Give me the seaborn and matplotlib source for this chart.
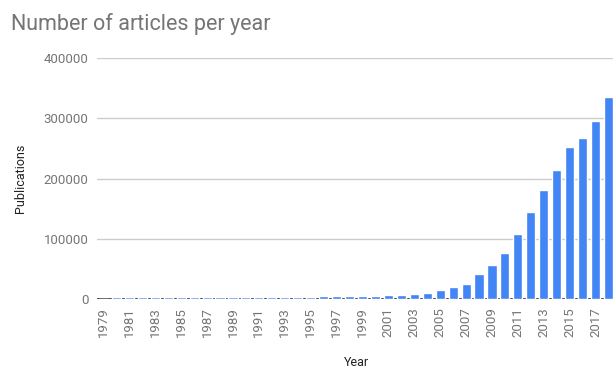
import matplotlib
matplotlib.use("Agg")
import matplotlib.pyplot as plt
import seaborn as sns
import pandas as pd

years = list(range(1979, 2019))
publications = [
    0, 3000, 3000, 3000, 3000, 3000, 3000, 3000, 3000, 3000,
    3000, 3000, 3000, 3000, 3000, 3000, 3000, 4500, 4500, 4500,
    4500, 4500, 6000, 6000, 7500, 9500, 14500, 19500, 24500, 41000,
    57000, 77000, 108000, 144000, 181000, 214000, 252000, 268000, 295000, 336000,
]
y_ticks = [0, 100000, 200000, 300000, 400000]

df = pd.DataFrame({"Year": [str(y) for y in years], "Publications": publications})

sns.set_theme(style="white")
plt.rcParams["font.family"] = ["Roboto", "DejaVu Sans"]

text_gray = "#757575"
fig = plt.figure(figsize=(6.13, 3.68), dpi=100)
ax = fig.add_axes([97 / 613, 69 / 368, 518 / 613, 241 / 368])

ax.axhline(0, color="#333333", linewidth=1.2, zorder=2)
sns.barplot(data=df, x="Year", y="Publications", color="#4285F4",
            saturation=1, width=0.7, ax=ax, zorder=3)

ax.set_xlim(-0.5, len(years) - 0.5)
ax.set_ylim(0, 400000)
ax.set_yticks(y_ticks)
ax.set_yticklabels([str(v) for v in y_ticks], color=text_gray, fontsize=9.5)
ax.yaxis.grid(True, color="#cccccc", linewidth=1, zorder=0)

ax.set_xticks(range(0, len(years), 2))
ax.set_xticklabels([str(y) for y in years[::2]], rotation=90,
                   color=text_gray, fontsize=9.5)
ax.tick_params(axis="both", length=0, pad=6)

for s in ax.spines.values():
    s.set_visible(False)

ax.set_xlabel("")
ax.set_ylabel("Publications", color="#222222", fontsize=9, labelpad=12)
fig.text(357 / 613, 1 - 362 / 368, "Year", color="#222222", fontsize=9,
         ha="center", va="center")

fig.text(11 / 613, 1 - 24 / 368, "Number of articles per year",
         color=text_gray, fontsize=15.5, va="center", ha="left")

fig.savefig("out.png", dpi=100)
